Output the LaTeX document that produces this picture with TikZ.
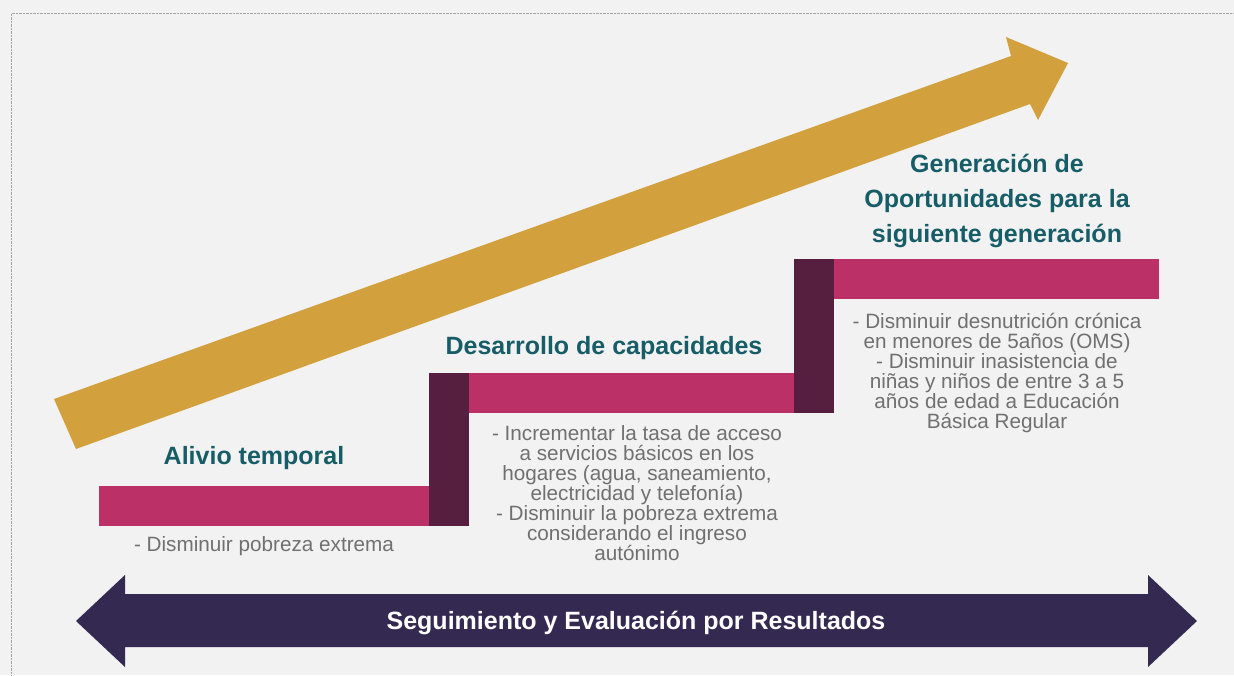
\documentclass[tikz,border=0pt]{standalone}
\usepackage{fontspec}
\setmainfont{Liberation Sans}
\definecolor{fondo}{HTML}{F2F2F2}
\definecolor{oro}{HTML}{D2A13E}
\definecolor{rosa}{HTML}{BC3068}
\definecolor{vino}{HTML}{561F3F}
\definecolor{azul}{HTML}{332951}
\definecolor{verde}{HTML}{165D68}
\definecolor{texto}{HTML}{707070}
\tikzset{
  titulo/.style={text=verde, font=\fontsize{25}{35}\selectfont\bfseries, align=center, inner sep=0pt},
  lista/.style={text=texto, font=\fontsize{20.7}{20}\selectfont, align=center, inner sep=0pt},
}
\begin{document}
\begin{tikzpicture}[x=1pt, y=-1pt]
        \useasboundingbox (0,0) rectangle (1234,675);
        \fill[fondo] (0,0) rectangle (1234,675);
        \draw[gray!70, densely dotted] (11,675)--(11,13.5)--(1234,13.5);
        % flecha dorada
        \fill[oro] (76,449)--(1030,104)--(1038,120)--(1068,63)--(1006,37)--(1011,56)--(54,399)--cycle;
        % escalones
        \fill[rosa] (99,486) rectangle (429,526);
        \fill[vino] (429,373) rectangle (469,526);
        \fill[rosa] (469,373) rectangle (794,413);
        \fill[vino] (794,259) rectangle (834,413);
        \fill[rosa] (834,259) rectangle (1159,299);
        % flecha doble
        \fill[azul] (76,621)--(125,575)--(125,594)--(1148,594)--(1148,575)--(1197,621)--(1148,667)--(1148,647)--(125,647)--(125,667)--cycle;
        \node[titulo] (alivio) at (254,458) {Alivio temporal};
        \node[titulo] (desarrollo) at (604,348) {Desarrollo de capacidades};
        \node[titulo] (generacion) at (997,201) {Generación de\\Oportunidades para la\\siguiente generación};
        \node[lista] (metas1) at (264,546) {- Disminuir pobreza extrema};
        \node[lista] (metas2) at (637,493) {- Incrementar la tasa de acceso\\a servicios básicos en los\\hogares (agua, saneamiento,\\electricidad y telefonía)\\- Disminuir la pobreza extrema\\considerando el ingreso\\autónimo};
        \node[lista] (metas3) at (997,373) {- Disminuir desnutrición crónica\\en menores de 5años (OMS)\\- Disminuir inasistencia de\\niñas y niños de entre 3 a 5\\años de edad a Educación\\Básica Regular};
        \node[text=white, font=\fontsize{25}{28}\selectfont\bfseries] (seguimiento) at (636,623) {Seguimiento y Evaluación por Resultados};
    \end{tikzpicture}
\end{document}
